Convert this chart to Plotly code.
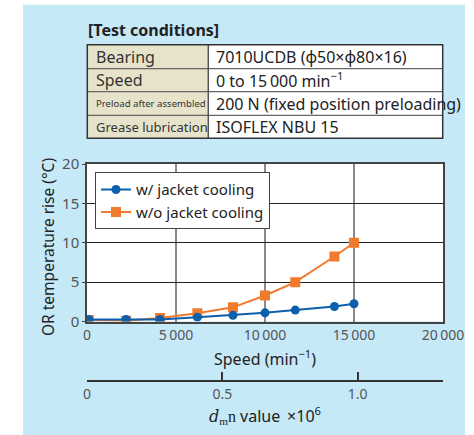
import plotly.graph_objects as go

# ---------------- data ----------------
speed = [100, 2200, 4100, 6200, 8200, 10000, 11700, 13900, 15000]
with_cooling = [0.25, 0.25, 0.25, 0.55, 0.8, 1.1, 1.45, 1.9, 2.25]
without_cooling = [0.2, 0.1, 0.45, 1.05, 1.8, 3.3, 5.0, 8.25, 10.0]

x_tickvals = [0, 5000, 10000, 15000, 20000]
x_ticktext = ["0", "5\u2009000", "10\u2009000", "15\u2009000", "20\u2009000"]
y_tickvals = [0, 5, 10, 15, 20]
dmn_tickvals = [0, 0.5, 1.0]
dmn_ticktext = ["0", "0.5", "1.0"]

table_labels = ["Bearing", "Speed", "Preload after assembled", "Grease lubrication"]
table_values = ["7010UCDB (\u03d550\u00d7\u03d580\u00d716)",
                "0 to 15\u2009000 min<sup>\u22121</sup>",
                "200 N (fixed position preloading)",
                "ISOFLEX NBU 15"]
label_sizes = [16, 16, 9.6, 13]

# ---------------- geometry helpers (pixels -> paper) ----------------
W, H = 474, 435
ML, MR, MT, MB = 87, 31, 164, 10
PW = W - ML - MR
PH = H - MT - MB


def px(x):
    return (x - ML) / PW


def py(y):
    return (H - MB - y) / PH


BLUE = "#0b5fad"
ORANGE = "#f27a2c"
BG = "#c6e9f8"
FONT = "Noto Sans"

fig = go.Figure()
fig.add_trace(go.Scatter(x=speed, y=without_cooling, name="w/o jacket cooling",
                         mode="lines+markers", legendrank=2,
                         line=dict(color=ORANGE, width=2),
                         marker=dict(symbol="square", size=10, color=ORANGE)))
fig.add_trace(go.Scatter(x=speed, y=with_cooling, name="w/ jacket cooling",
                         mode="lines+markers", legendrank=1,
                         line=dict(color=BLUE, width=2),
                         marker=dict(symbol="circle", size=9, color=BLUE)))
# carrier trace for the dmn axis
fig.add_trace(go.Scatter(x=dmn_tickvals, y=[None] * len(dmn_tickvals), xaxis="x2",
                         mode="markers", showlegend=False, hoverinfo="skip"))

shapes = []
annotations = []

# white strips outside the blue panel
for (x0, x1, y0, y1) in [(0, 23, 0, H), (465, W, 0, H), (0, W, 0, 4.7)]:
    shapes.append(dict(type="rect", xref="paper", yref="paper", layer="below",
                       x0=px(x0), x1=px(x1), y0=py(y1), y1=py(y0),
                       fillcolor="white", line=dict(width=0)))

# ---------------- table ----------------
tx0, tx1, tx2 = 87.3, 208.3, 442.7
rows_y = [44.7, 68.7, 91.7, 115.3, 138.3]
shapes.append(dict(type="rect", xref="paper", yref="paper", x0=px(tx0), x1=px(tx1),
                   y0=py(rows_y[-1]), y1=py(rows_y[0]), fillcolor="#e6e3ca",
                   line=dict(width=0)))
shapes.append(dict(type="rect", xref="paper", yref="paper", x0=px(tx1), x1=px(tx2),
                   y0=py(rows_y[-1]), y1=py(rows_y[0]), fillcolor="white",
                   line=dict(width=0)))
for yy in rows_y[1:-1]:
    shapes.append(dict(type="line", xref="paper", yref="paper", x0=px(tx0), x1=px(tx2),
                       y0=py(yy), y1=py(yy), line=dict(color="#666", width=1.2)))
shapes.append(dict(type="line", xref="paper", yref="paper", x0=px(tx1), x1=px(tx1),
                   y0=py(rows_y[-1]), y1=py(rows_y[0]), line=dict(color="#555", width=1.5)))
shapes.append(dict(type="rect", xref="paper", yref="paper", x0=px(tx0), x1=px(tx2),
                   y0=py(rows_y[-1]), y1=py(rows_y[0]), line=dict(color="#333", width=1.5)))

for i, (lab, val) in enumerate(zip(table_labels, table_values)):
    yc = (rows_y[i] + rows_y[i + 1]) / 2
    annotations.append(dict(xref="paper", yref="paper", x=px(93.5), y=py(yc),
                            text=lab, showarrow=False, xanchor="left", yanchor="middle",
                            font=dict(family=FONT, size=label_sizes[i], color="#333")))
    annotations.append(dict(xref="paper", yref="paper", x=px(214), y=py(yc),
                            text=val, showarrow=False, xanchor="left", yanchor="middle",
                            font=dict(family=FONT, size=16, color="#222")))

annotations.append(dict(xref="paper", yref="paper", x=px(86), y=py(30),
                        text="<b>[Test conditions]</b>", showarrow=False,
                        xanchor="left", yanchor="middle",
                        font=dict(family=FONT, size=16, color="#222")))

# axis titles
annotations.append(dict(xref="paper", yref="paper", x=px(48), y=py(247),
                        text="OR temperature rise (\u00b0C)", textangle=-90,
                        showarrow=False, xanchor="center", yanchor="middle",
                        font=dict(family=FONT, size=15.5, color="#222")))
annotations.append(dict(xref="paper", yref="paper", x=px(265), y=py(358),
                        text="Speed (min<sup>\u22121</sup>)",
                        showarrow=False, xanchor="center", yanchor="middle",
                        font=dict(family=FONT, size=16, color="#222")))
annotations.append(dict(xref="paper", yref="paper", x=px(265), y=py(415),
                        text='<span style="font-family:DejaVu Serif, Liberation Serif"><i>d</i></span>'
                             '<span style="font-family:Liberation Serif"><sub>m</sub>n</span>'
                             ' value \u2009\u00d710<sup>6</sup>',
                        showarrow=False, xanchor="center", yanchor="middle",
                        font=dict(family=FONT, size=16, color="#222")))

yd0 = py(321.5)
fig.update_layout(
    template="none",
    width=W, height=H, autosize=False,
    margin=dict(l=ML, r=MR, t=MT, b=MB, pad=0, autoexpand=False),
    paper_bgcolor=BG, plot_bgcolor="white",
    font=dict(family=FONT, color="#555"),
    showlegend=True,
    legend=dict(x=px(95), y=py(172.3), xanchor="left", yanchor="top",
                bgcolor="white", bordercolor="#444", borderwidth=1,
                font=dict(family=FONT, size=15, color="#222"),
                tracegroupgap=0, itemwidth=30),
    xaxis=dict(range=[0, 20000], tickvals=x_tickvals, ticktext=x_ticktext,
               showgrid=True, gridcolor="#8a8a8a", gridwidth=1.5,
               showline=True, linecolor="#444", linewidth=1.5, mirror=True,
               ticks="", zeroline=False, anchor="y", automargin=False,
               tickfont=dict(family=FONT, size=14, color="#555")),
    yaxis=dict(range=[0, 20], tickvals=y_tickvals, domain=[yd0, 1],
               showgrid=True, gridcolor="#222", gridwidth=1,
               showline=True, linecolor="#444", linewidth=1.5, mirror=True,
               ticks="outside", ticklen=3, tickcolor="#444", zeroline=False,
               automargin=False,
               tickfont=dict(family=FONT, size=15, color="#555")),
    xaxis2=dict(overlaying="x", anchor="free", position=py(381), side="bottom",
                range=[0, 1.315], tickvals=dmn_tickvals, ticktext=dmn_ticktext,
                showgrid=False, zeroline=False, showline=True, linecolor="#333",
                linewidth=1.5, ticks="inside", ticklen=8, tickcolor="#333", tickwidth=1.5,
                automargin=False,
                tickfont=dict(family=FONT, size=14, color="#555")),
    shapes=shapes, annotations=annotations,
    hovermode=False,
)

fig.write_html(
    "out.html",
    config={"displayModeBar": False, "responsive": False},
    post_script=("var s=document.createElement('style');"
                 "s.textContent='html,body{margin:0!important;padding:0!important;overflow:hidden;}';"
                 "document.head.appendChild(s);"),
)
